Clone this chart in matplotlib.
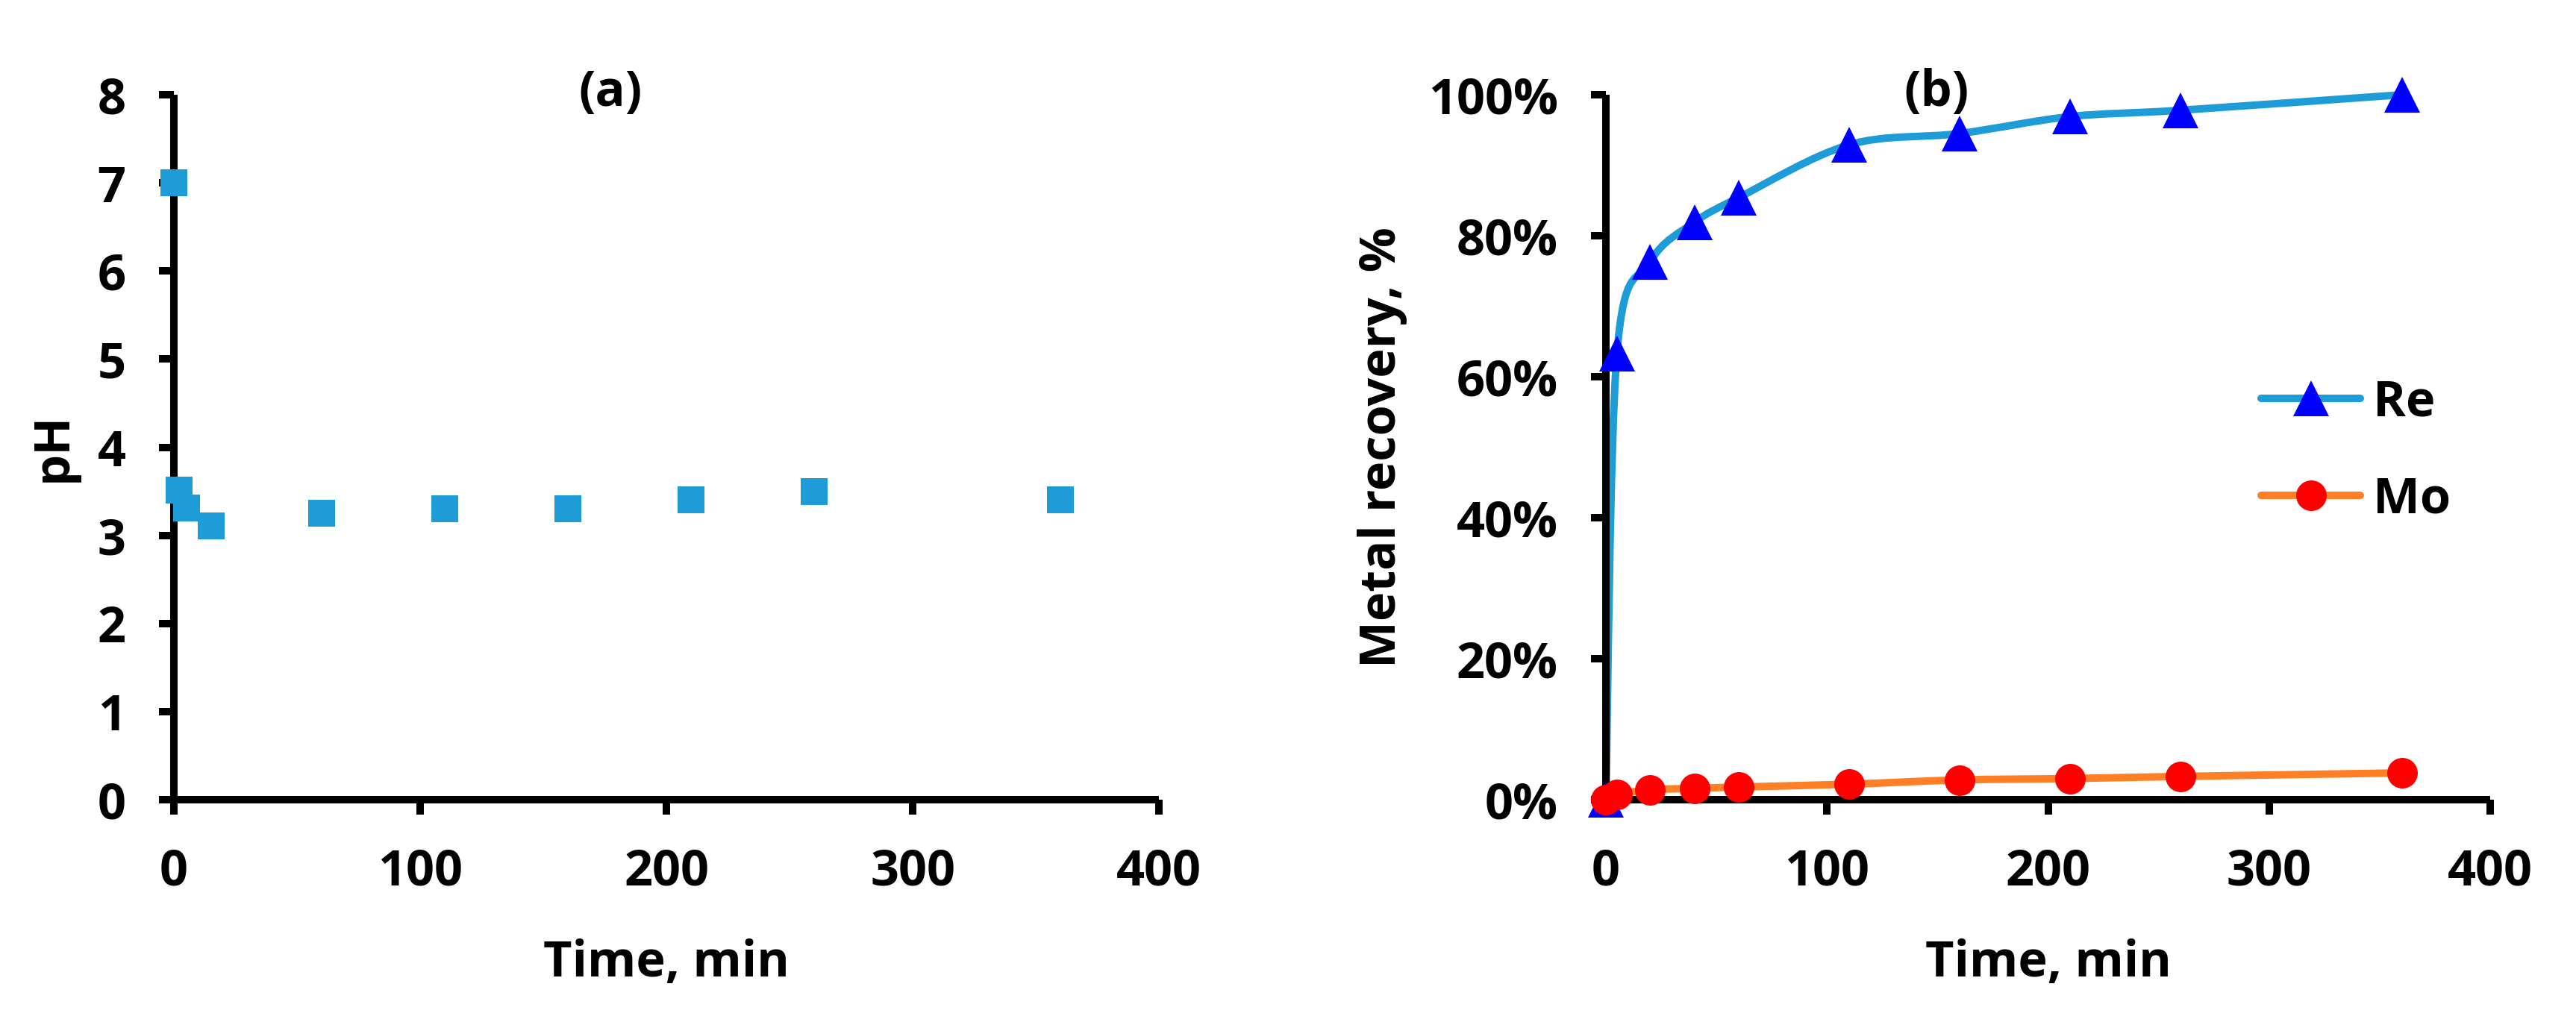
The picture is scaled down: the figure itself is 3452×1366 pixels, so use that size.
import matplotlib
matplotlib.use("Agg")
import matplotlib.pyplot as plt
from matplotlib.path import Path
from matplotlib.patches import PathPatch
from matplotlib.lines import Line2D
from matplotlib.ticker import PercentFormatter
import numpy as np

# ---------------- data ----------------
ph_time = [0, 2, 5, 15, 60, 110, 160, 210, 260, 360]
ph_value = [7.0, 3.51, 3.31, 3.11, 3.25, 3.30, 3.30, 3.40, 3.50, 3.40]

rec_time = [0, 5, 20, 40, 60, 110, 160, 210, 260, 360]
re_recovery = [0.0, 0.633, 0.763, 0.819, 0.854, 0.929, 0.945, 0.969, 0.978, 1.0]
mo_recovery = [0.0, 0.007, 0.014, 0.016, 0.018, 0.022, 0.028, 0.030, 0.033, 0.038]

ph_yticks = [0, 1, 2, 3, 4, 5, 6, 7, 8]
time_ticks = [0, 100, 200, 300, 400]
rec_yticks = [0, 0.2, 0.4, 0.6, 0.8, 1.0]

# ---------------- style ----------------
FONT = ["Open Sans", "DejaVu Sans"]
plt.rcParams["font.family"] = FONT
plt.rcParams["font.weight"] = "bold"
FS = 48
LIGHT_BLUE = "#1E9CD7"
ORANGE = "#FF7F27"

W, H = 3452, 1366
fig = plt.figure(figsize=(W / 100, H / 100), dpi=100)

def px_axes(l, r, t, b):
    return fig.add_axes([l / W, 1 - b / H, (r - l) / W, (b - t) / H])

ax1 = px_axes(233, 1553, 127, 1072)
ax2 = px_axes(2152, 3337, 127, 1072)

for ax in (ax1, ax2):
    for s in ("top", "right"):
        ax.spines[s].set_visible(False)
    for s in ("left", "bottom"):
        ax.spines[s].set_linewidth(7.2)
        ax.spines[s].set_capstyle("butt")
    ax.tick_params(axis="both", direction="out", length=14.4, width=7.2,
                   labelsize=FS, colors="black")
    ax.tick_params(axis="x", pad=31)
    ax.tick_params(axis="y", pad=32)
    ax.set_xlim(0, 400)
    ax.set_xticks(time_ticks)
    ax.set_xlabel("Time, min", fontsize=FS, fontweight="bold", va="center")
    ax.xaxis.set_label_coords(0.5, -0.232)
    for lab in ax.get_xticklabels() + ax.get_yticklabels():
        lab.set_fontweight("bold")

# ---- panel (a)
ax1.set_ylim(0, 8)
ax1.set_yticks(ph_yticks)
ax1.scatter(ph_time, ph_value, marker="s", s=25.5 ** 2, color=LIGHT_BLUE,
            linewidths=0, zorder=3, clip_on=False)
ax1.set_ylabel("pH", fontsize=FS, fontweight="bold", va="center")
ax1.yaxis.set_label_coords(-0.1227, 0.5)
ax1.text(0.443, 1.003, "(a)", transform=ax1.transAxes, ha="center", va="center",
         fontsize=FS, fontweight="bold")

# ---- panel (b)
ax2.set_ylim(0, 1.0)
ax2.set_yticks(rec_yticks)
ax2.yaxis.set_major_formatter(PercentFormatter(xmax=1.0, decimals=0))
for lab in ax2.get_yticklabels():
    lab.set_fontweight("bold")


def smooth_path(xs, ys):
    pts = np.column_stack([xs, ys]).astype(float)
    n = len(pts)
    verts = [pts[0]]
    codes = [Path.MOVETO]
    for i in range(n - 1):
        p0 = pts[i - 1] if i > 0 else pts[i]
        p1 = pts[i]
        p2 = pts[i + 1]
        p3 = pts[i + 2] if i + 2 < n else pts[i + 1]
        c1 = p1 + (p2 - p0) / 6.0
        c2 = p2 - (p3 - p1) / 6.0
        verts += [c1, c2, p2]
        codes += [Path.CURVE4] * 3
    return Path(verts, codes)


LW = 7.2
re_patch = PathPatch(smooth_path(rec_time, re_recovery), facecolor="none",
                     edgecolor=LIGHT_BLUE, linewidth=LW, zorder=2,
                     capstyle="round", clip_on=False)
ax2.add_patch(re_patch)
ax2.plot(rec_time, re_recovery, linestyle="none", marker="^", markersize=34,
         color="#0000FF", markeredgewidth=0, zorder=3, clip_on=False)

mo_patch = PathPatch(smooth_path(rec_time, mo_recovery), facecolor="none",
                     edgecolor=ORANGE, linewidth=LW, zorder=4,
                     capstyle="round", clip_on=False)
ax2.add_patch(mo_patch)
ax2.plot(rec_time, mo_recovery, linestyle="none", marker="o", markersize=29.5,
         color="#FF0000", markeredgewidth=0, zorder=5, clip_on=False)

ax2.set_ylabel("Metal recovery, %", fontsize=FS, fontweight="bold", va="center")
ax2.yaxis.set_label_coords(-0.253, 0.5)
ax2.text(0.374, 1.003, "(b)", transform=ax2.transAxes, ha="center", va="center",
         fontsize=FS, fontweight="bold")

handles = [
    Line2D([], [], color=LIGHT_BLUE, linewidth=LW, solid_capstyle="round",
           marker="^", markersize=34, markerfacecolor="#0000FF",
           markeredgewidth=0),
    Line2D([], [], color=ORANGE, linewidth=LW, solid_capstyle="round",
           marker="o", markersize=29.5, markerfacecolor="#FF0000",
           markeredgewidth=0),
]
leg = ax2.legend(handles, ["Re", "Mo"], loc="center left",
                 bbox_to_anchor=((3030 - 2152) / 1185, (1072 - 605) / 945),
                 frameon=False, fontsize=FS, handlelength=2.0,
                 handletextpad=0.25, labelspacing=0.95, borderpad=0,
                 borderaxespad=0, prop={"weight": "bold", "size": FS})

fig.savefig("out.png", dpi=100, facecolor="white")
